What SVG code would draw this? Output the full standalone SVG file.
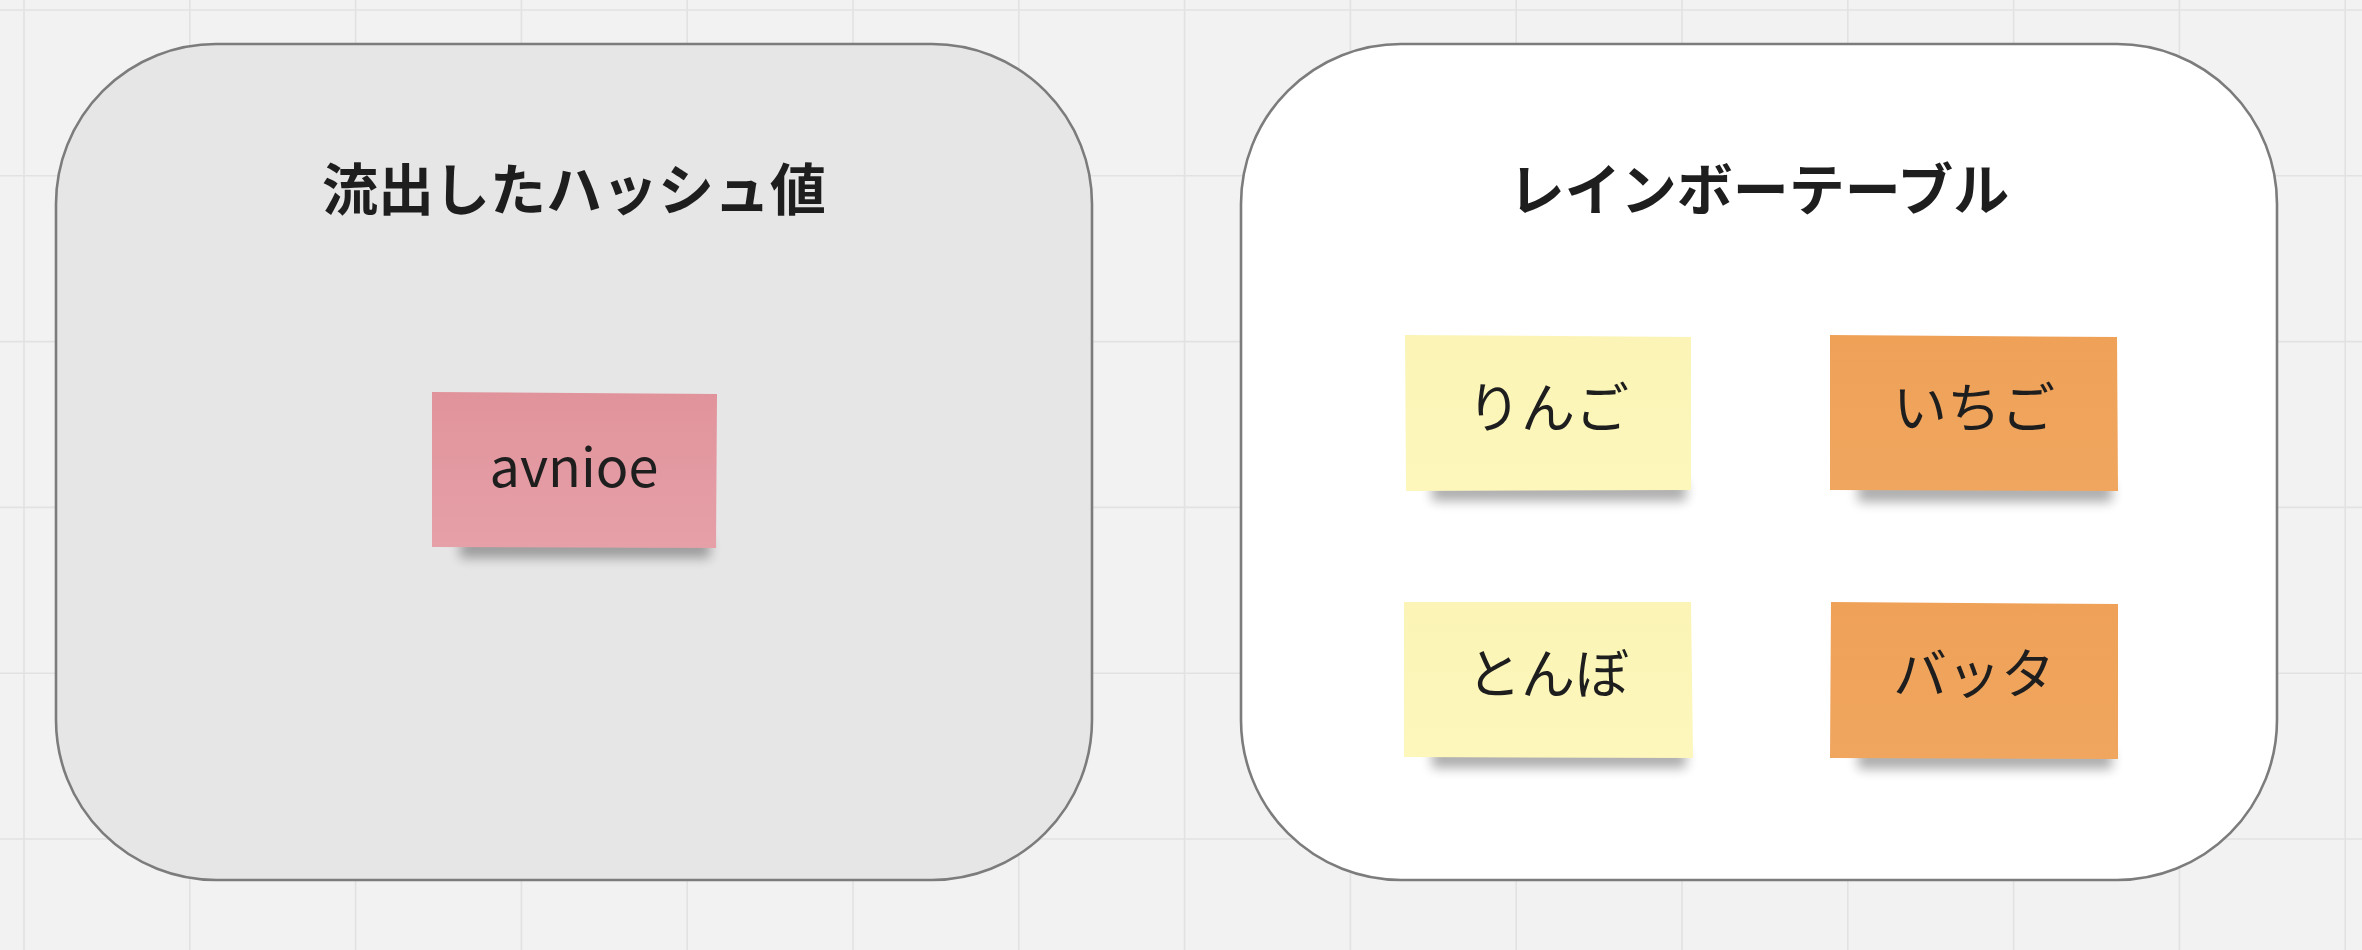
<svg xmlns="http://www.w3.org/2000/svg" width="2362" height="950" viewBox="0 0 2362 950">
<defs>
<style>
.grid{stroke:#e2e2e2;stroke-width:1.6;fill:none}
.frame{stroke:#7c7c7c;stroke-width:2.6}
.title{font-family:"Noto Sans CJK JP","Noto Sans",sans-serif;font-weight:bold;font-size:56px;fill:#1e1e1e;text-anchor:middle}
.note{font-family:"Noto Sans CJK JP","Noto Sans",sans-serif;font-size:54px;fill:#1e1e1e;text-anchor:middle}
.shadow{fill:#000;opacity:0.32;filter:url(#blur)}
</style>
<filter id="blur" x="-20%" y="-100%" width="140%" height="300%">
<feGaussianBlur stdDeviation="6"/>
</filter>
<linearGradient id="pink" x1="0" y1="0" x2="0" y2="1">
<stop offset="0" stop-color="#e1939b"/>
<stop offset="1" stop-color="#e6a0a8"/>
</linearGradient>
<linearGradient id="yellow" x1="0" y1="0" x2="0" y2="1">
<stop offset="0" stop-color="#fbf4b6"/>
<stop offset="1" stop-color="#fdf7bc"/>
</linearGradient>
<linearGradient id="orange" x1="0" y1="0" x2="0" y2="1">
<stop offset="0" stop-color="#efa158"/>
<stop offset="1" stop-color="#f0a65f"/>
</linearGradient>
</defs>
<rect x="0" y="0" width="2362" height="950" fill="#f2f2f2"/>
<g id="grid">
<path class="grid" d="M24 0V950M189.8 0V950M355.6 0V950M521.4 0V950M687.2 0V950M853 0V950M1018.8 0V950M1184.6 0V950M1350.4 0V950M1516.2 0V950M1682 0V950M1847.8 0V950M2013.6 0V950M2179.4 0V950M2345.2 0V950M0 10H2362M0 175.8H2362M0 341.6H2362M0 507.4H2362M0 673.2H2362M0 839H2362"/>
</g>
<g id="leaked-hashes">
<rect class="frame" x="56" y="44" width="1036" height="836" rx="160" ry="160" fill="#e6e6e6"/>
<text class="title" x="574" y="210">流出したハッシュ値</text>
</g>
<g id="rainbow-table">
<rect class="frame" x="1241" y="44" width="1036" height="836" rx="160" ry="160" fill="#ffffff"/>
<text class="title" x="1759" y="210">レインボーテーブル</text>
</g>
<g id="note-avnioe">
<rect class="shadow" x="460" y="538" width="250" height="20"/>
<polygon points="432,392 717,394 716,548 432,547" fill="url(#pink)"/>
<text class="note" x="574" y="487">avnioe</text>
</g>
<g id="note-ringo">
<rect class="shadow" x="1432" y="481" width="254" height="20"/>
<polygon points="1405,335 1691,337 1691,490 1406,491" fill="url(#yellow)"/>
<text class="note" x="1548" y="428">りんご</text>
</g>
<g id="note-ichigo">
<rect class="shadow" x="1858" y="482" width="254" height="20"/>
<polygon points="1830,335 2117,337 2118,491 1830,490" fill="url(#orange)"/>
<text class="note" x="1974" y="428">いちご</text>
</g>
<g id="note-tonbo">
<rect class="shadow" x="1432" y="748" width="254" height="20"/>
<polygon points="1404,602 1691,602 1693,758 1404,757" fill="url(#yellow)"/>
<text class="note" x="1548" y="694">とんぼ</text>
</g>
<g id="note-batta">
<rect class="shadow" x="1858" y="749" width="254" height="20"/>
<polygon points="1831,602 2118,604 2118,759 1830,758" fill="url(#orange)"/>
<text class="note" x="1974" y="694">バッタ</text>
</g>
<g id="connectors"></g>
</svg>
